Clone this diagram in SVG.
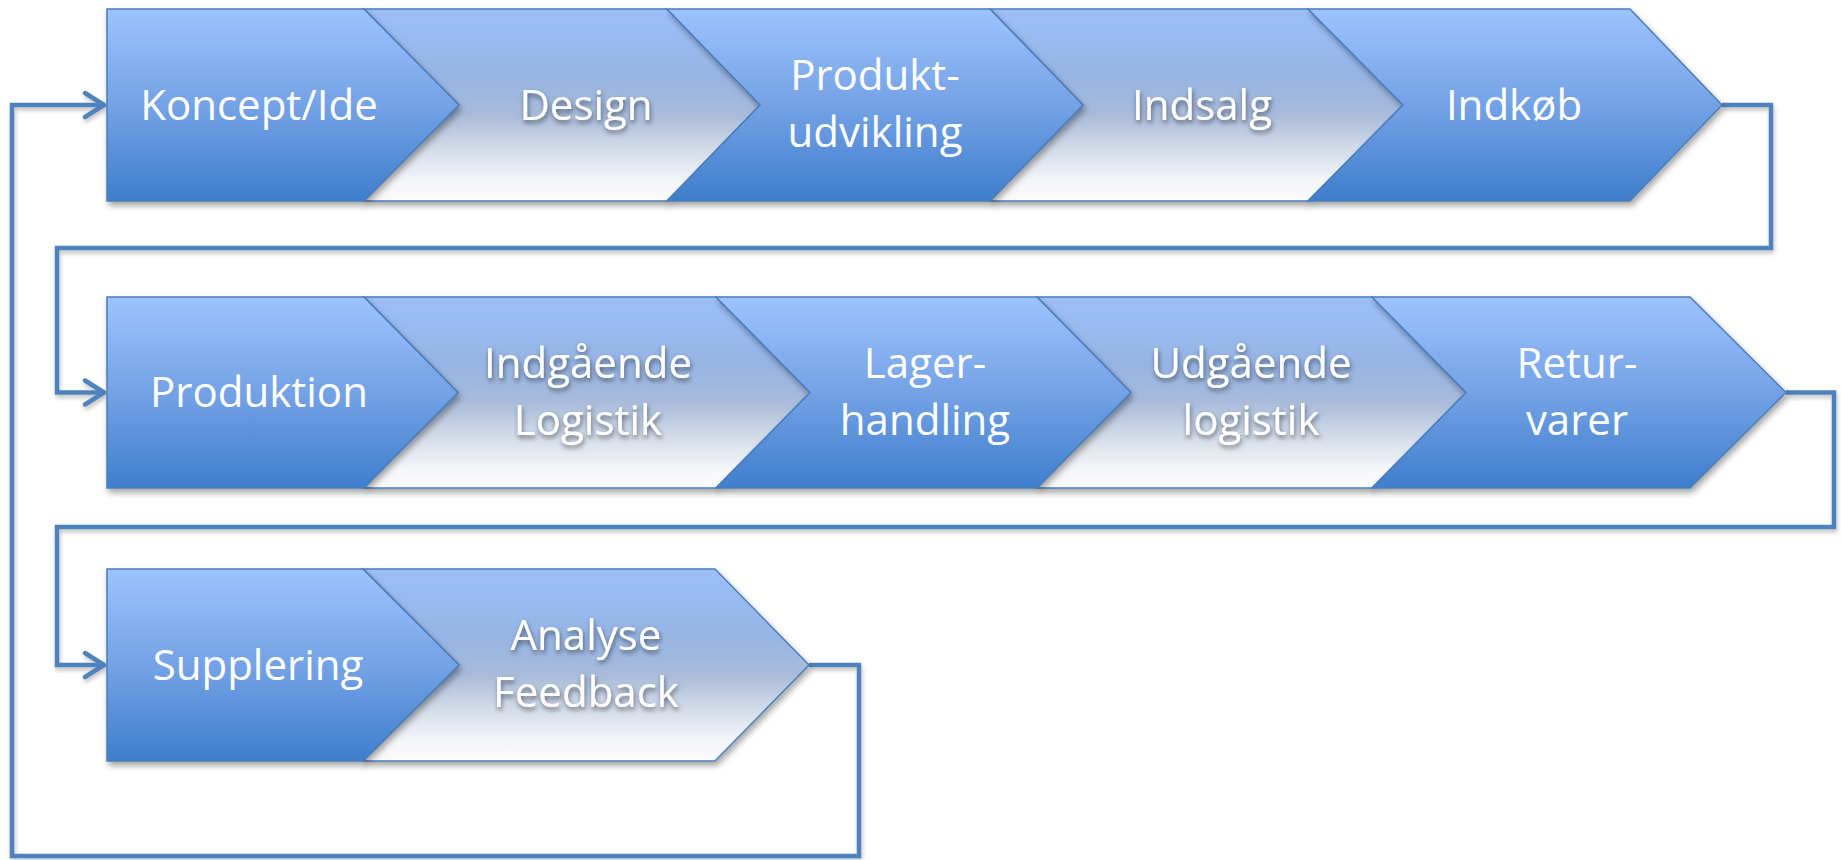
<svg xmlns="http://www.w3.org/2000/svg" width="1841" height="860" viewBox="0 0 1841 860">
  <defs>
    <linearGradient id="blueFill" x1="0" y1="0" x2="0" y2="1">
      <stop offset="0" stop-color="#9DC3FD"/>
      <stop offset="0.5" stop-color="#74A2E6"/>
      <stop offset="1" stop-color="#3E7ECC"/>
    </linearGradient>
    <linearGradient id="paleFill" x1="0" y1="0" x2="0" y2="1">
      <stop offset="0" stop-color="#9CC0FA"/>
      <stop offset="0.35" stop-color="#96B4E4"/>
      <stop offset="0.55" stop-color="#A8BBDA"/>
      <stop offset="0.75" stop-color="#D8DFEA"/>
      <stop offset="0.9" stop-color="#F5F6F9"/>
      <stop offset="1" stop-color="#FBFBFB"/>
    </linearGradient>
    <filter id="shapeShadow" x="-10%" y="-10%" width="125%" height="130%">
      <feDropShadow dx="2" dy="4" stdDeviation="3" flood-color="#000" flood-opacity="0.35"/>
    </filter>
    <filter id="lineShadow" x="-5%" y="-5%" width="110%" height="115%">
      <feDropShadow dx="1" dy="3" stdDeviation="2" flood-color="#000" flood-opacity="0.25"/>
    </filter>
    <filter id="textShadow" x="-20%" y="-30%" width="140%" height="170%">
      <feDropShadow dx="1" dy="3" stdDeviation="2.5" flood-color="#000" flood-opacity="0.5"/>
    </filter>
    <marker id="arrow" markerUnits="userSpaceOnUse" markerWidth="30" markerHeight="30" viewBox="-25 -15 30 30" refX="0" refY="0" orient="auto" overflow="visible">
      <path d="M-20,-12 L-1,0 L-20,12" fill="none" stroke="#4F81BD" stroke-width="4.5" stroke-linecap="round" stroke-linejoin="round"/>
    </marker>
  </defs>
  <style>
    .blue { fill: url(#blueFill); stroke: #4A7EBB; stroke-width: 1.5; filter: url(#shapeShadow); }
    .pale { fill: url(#paleFill); stroke: #4A7EBB; stroke-width: 1.5; filter: url(#shapeShadow); }
    .lbl { font-family: "Open Sans", "Liberation Sans", sans-serif; font-size: 42px; fill: #FFFFFF; text-anchor: middle; }
    .lbl-sh { filter: url(#textShadow); }
    .conn { fill: none; stroke: #4F81BD; stroke-width: 4.5; stroke-linejoin: miter; filter: url(#lineShadow); }
  </style>

  <rect width="1841" height="860" fill="#FFFFFF"/>

  <!-- connectors between rows and back to the start -->
  <g id="connectors">
    <path class="conn" d="M1722,105 H1771 V248 H57 V392.5 H105" marker-end="url(#arrow)"/>
    <path class="conn" d="M1786,392.5 H1834 V527 H57 V665 H105" marker-end="url(#arrow)"/>
    <path class="conn" d="M809,665 H859 V856 H12 V105 H105" marker-end="url(#arrow)"/>
  </g>

  <!-- pale chevrons (drawn first, blue ones overlap their edges) -->
  <g id="design">
    <path class="pale" d="M364,9 L667,9 L760,105 L667,201 L364,201 L459,105 Z"/>
    <text class="lbl lbl-sh" x="586" y="120">Design</text>
  </g>
  <g id="indsalg">
    <path class="pale" d="M990,9 L1308,9 L1403,105 L1308,201 L990,201 L1083,105 Z"/>
    <text class="lbl lbl-sh" x="1202" y="120">Indsalg</text>
  </g>
  <g id="indgaaende-logistik">
    <path class="pale" d="M364,297 L716,297 L810,392.5 L716,488 L364,488 L458,392.5 Z"/>
    <text class="lbl lbl-sh" x="588" y="378">Indgående</text>
    <text class="lbl lbl-sh" x="588" y="435">Logistik</text>
  </g>
  <g id="udgaaende-logistik">
    <path class="pale" d="M1037,297 L1372,297 L1466,392.5 L1372,488 L1037,488 L1131,392.5 Z"/>
    <text class="lbl lbl-sh" x="1251" y="378">Udgående</text>
    <text class="lbl lbl-sh" x="1251" y="435">logistik</text>
  </g>
  <g id="analyse-feedback">
    <path class="pale" d="M363,569 L715,569 L809,665 L715,761 L363,761 L459,665 Z"/>
    <text class="lbl lbl-sh" x="586" y="650">Analyse</text>
    <text class="lbl lbl-sh" x="586" y="707">Feedback</text>
  </g>

  <!-- blue chevrons -->
  <g id="koncept-ide">
    <path class="blue" d="M107,9 L364,9 L459,105 L364,201 L107,201 Z"/>
    <text class="lbl" x="259" y="120">Koncept/Ide</text>
  </g>
  <g id="produktudvikling">
    <path class="blue" d="M667,9 L990,9 L1083,105 L990,201 L667,201 L760,105 Z"/>
    <text class="lbl" x="875" y="90">Produkt-</text>
    <text class="lbl" x="875" y="147">udvikling</text>
  </g>
  <g id="indkoeb">
    <path class="blue" d="M1308,9 L1630,9 L1722,105 L1630,201 L1308,201 L1403,105 Z"/>
    <text class="lbl" x="1514" y="120">Indkøb</text>
  </g>
  <g id="produktion">
    <path class="blue" d="M107,297 L364,297 L458,392.5 L364,488 L107,488 Z"/>
    <text class="lbl" x="259" y="407">Produktion</text>
  </g>
  <g id="lagerhandling">
    <path class="blue" d="M716,297 L1037,297 L1131,392.5 L1037,488 L716,488 L810,392.5 Z"/>
    <text class="lbl" x="925" y="378">Lager-</text>
    <text class="lbl" x="925" y="435">handling</text>
  </g>
  <g id="returvarer">
    <path class="blue" d="M1372,297 L1690,297 L1786,392.5 L1690,488 L1372,488 L1466,392.5 Z"/>
    <text class="lbl" x="1577" y="378">Retur-</text>
    <text class="lbl" x="1577" y="435">varer</text>
  </g>
  <g id="supplering">
    <path class="blue" d="M107,569 L363,569 L459,665 L363,761 L107,761 Z"/>
    <text class="lbl" x="258" y="680">Supplering</text>
  </g>
</svg>
